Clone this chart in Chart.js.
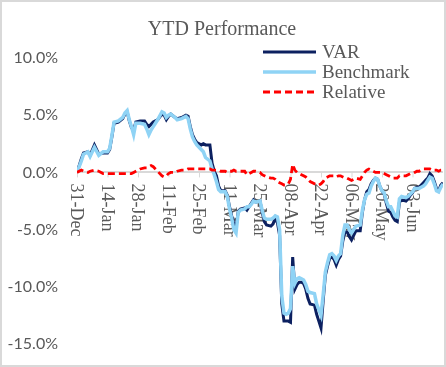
<!DOCTYPE html>
<html>
<head>
<meta charset="utf-8">
<script src="https://cdn.jsdelivr.net/npm/chart.js@4"></script>
<style>
  html, body { margin: 0; padding: 0; background: #fff; }
  canvas { display: block; }
</style>
</head>
<body>
<canvas id="perf" width="446" height="367"></canvas>
<script>
// day offsets from 31-Dec
var days = [0, 2, 3, 5, 6, 8, 10, 12, 14, 15, 16, 17, 19, 21, 22, 23, 24, 25, 26, 27,
  29, 31, 32, 33, 34, 35, 36, 37, 39, 40, 41, 42, 43, 45, 46, 48, 50, 51, 52, 53,
  54, 55, 57, 58, 59, 61, 62, 63, 64, 65, 66, 68, 69, 70, 71, 72, 73, 74, 75, 77,
  78, 79, 80, 81, 82, 84, 85, 86, 87, 89, 90, 91, 92, 93, 94, 95, 96, 97, 98, 99,
  100, 101, 102, 103, 104, 105, 106, 107, 109, 110, 111, 112, 113, 114, 115, 116, 117, 118, 119, 120,
  121, 122, 123, 124, 125, 126, 127, 128, 130, 131, 132, 133, 134, 135, 136, 137, 138, 139, 140, 141,
  142, 143, 144, 145, 146, 147, 148, 149, 151, 152, 153, 154, 155, 156, 157, 158, 159, 160, 161, 162,
  163, 164, 165, 166, 167, 168];

var varPerf = [0, 1.2, 1.7, 1.8, 1.5, 2.4, 1.6, 1.7, 1.7, 2.0, 3.1, 4.3, 4.4, 4.7, 5.1, 5.3, 4.5, 3.9, 3.7, 4.4,
  4.5, 4.5, 4.2, 4.0, 4.2, 4.4, 4.5, 4.6, 5.1, 5.0, 4.6, 4.9, 5.1, 4.8, 4.7, 4.8, 5.0, 4.9, 4.0, 3.3,
  2.9, 2.6, 2.4, 2.5, 2.4, 2.4, 0.8, 0.1, -0.3, -1.2, -1.6, -1.6, -2.0, -3.0, -3.8, -4.5, -4.8, -3.4, -3.2, -3.1,
  -3.3, -3.0, -2.7, -2.4, -2.6, -2.5, -3.5, -4.3, -4.6, -4.7, -4.5, -4.0, -4.4, -5.5, -11.5, -13.0, -13.0, -13.0, -13.1, -7.4,
  -10.2, -9.8, -9.6, -9.6, -9.7, -10.2, -11.0, -11.5, -11.6, -12.4, -13.0, -13.6, -11.2, -9.0, -8.2, -7.5, -7.4, -7.6, -8.1, -7.6,
  -7.3, -6.0, -5.2, -5.2, -5.6, -5.9, -5.5, -5.1, -5.1, -3.5, -2.4, -1.7, -1.5, -1.0, -0.7, -0.5, -0.6, -1.2, -1.6, -1.9,
  -2.7, -3.4, -3.5, -3.9, -4.2, -4.3, -2.6, -2.4, -2.5, -2.3, -2.0, -1.8, -1.4, -1.3, -1.3, -1.1, -0.9, -0.7, -0.5, -0.1,
  -0.3, -0.8, -1.4, -1.6, -1.1, -0.9];

var benchPerf = [0, 1.0, 1.6, 1.8, 1.4, 2.2, 1.5, 1.8, 1.8, 2.1, 3.2, 4.4, 4.5, 4.8, 5.2, 5.4, 4.6, 4.0, 3.3, 4.3,
  4.3, 4.2, 3.8, 3.3, 3.7, 4.0, 4.3, 4.6, 5.3, 5.2, 4.8, 5.0, 5.1, 4.8, 4.6, 4.7, 4.9, 4.7, 3.8, 3.1,
  2.7, 2.4, 2.0, 1.8, 1.3, 1.0, 0.3, -0.2, -0.8, -1.5, -1.7, -1.7, -2.1, -3.2, -4.0, -5.0, -5.3, -3.5, -3.3, -3.2,
  -3.0, -3.0, -2.8, -2.5, -2.6, -2.5, -3.3, -4.0, -4.1, -4.1, -4.0, -3.8, -3.9, -5.0, -10.8, -12.3, -12.4, -12.3, -11.9, -8.2,
  -9.7, -9.3, -9.2, -9.3, -9.4, -9.8, -10.4, -10.5, -10.6, -11.5, -12.0, -12.5, -10.7, -8.7, -7.9, -7.2, -7.1, -7.3, -7.7, -7.3,
  -7.1, -5.5, -4.6, -4.6, -5.0, -5.3, -5.0, -4.7, -4.6, -3.3, -2.4, -1.9, -1.8, -1.2, -0.8, -0.5, -0.6, -1.2, -1.6, -1.8,
  -2.5, -3.0, -3.0, -3.4, -3.8, -3.9, -2.3, -2.1, -2.2, -2.1, -1.9, -1.7, -1.4, -1.4, -1.4, -1.3, -1.2, -1.0, -0.7, -0.4,
  -0.5, -1.0, -1.6, -1.7, -1.3, -1.0];

var relPerf = [0, 0.2, 0.1, 0.0, 0.1, 0.2, 0.1, -0.1, -0.1, -0.1, -0.1, -0.1, -0.1, -0.1, -0.1, -0.1, -0.1, -0.1, 0.0, 0.1,
  0.3, 0.4, 0.4, 0.5, 0.6, 0.5, 0.3, 0.1, -0.3, -0.4, -0.3, -0.1, 0.0, 0.0, 0.1, 0.2, 0.2, 0.3, 0.3, 0.3,
  0.3, 0.3, 0.3, 0.3, 0.3, 0.3, 0.2, 0.2, 0.2, 0.2, 0.1, 0.1, 0.0, 0.1, 0.1, 0.2, 0.1, 0.1, 0.1, 0.1,
  -0.2, -0.1, 0.0, 0.1, 0.1, 0.0, -0.2, -0.3, -0.4, -0.5, -0.5, -0.6, -0.8, -0.9, -1.0, -1.1, -1.1, -1.0, -0.6, 0.7,
  0.2, 0.0, -0.1, -0.2, -0.3, -0.4, -0.6, -0.8, -1.0, -1.1, -1.1, -1.0, -0.8, -0.5, -0.4, -0.3, -0.3, -0.3, -0.4, -0.3,
  -0.3, -0.4, -0.5, -0.5, -0.6, -0.7, -0.6, -0.5, -0.6, -0.3, 0.0, 0.2, 0.3, 0.2, 0.1, 0.0, 0.0, 0.0, 0.0, -0.1,
  -0.2, -0.3, -0.4, -0.5, -0.5, -0.5, -0.3, -0.3, -0.3, -0.2, -0.1, -0.1, 0.0, 0.1, 0.1, 0.2, 0.3, 0.3, 0.3, 0.3,
  0.2, 0.2, 0.2, 0.1, 0.2, 0.2];

var tickLabels = ["31-Dec", "14-Jan", "28-Jan", "11-Feb", "25-Feb", "11-Mar",
  "25-Mar", "08-Apr", "22-Apr", "06-May", "20-May", "03-Jun"];

var textColor = "#595959";
var serif = "'Liberation Serif', 'DejaVu Serif', serif";

function toPoints(vals) {
  return vals.map(function (v, i) { return { x: days[i], y: v }; });
}

// title, custom legend, rotated date labels and the frame
var decorations = {
  id: "decorations",
  beforeDatasetsDraw: function (chart) {
    var c = chart.ctx;
    var xs = chart.scales.x, ys = chart.scales.y;
    var y0 = ys.getPixelForValue(0);
    c.save();
    c.strokeStyle = "#d9d9d9";
    c.lineWidth = 1;
    c.fillStyle = textColor;
    c.font = "18px " + serif;
    c.textAlign = "left";
    c.textBaseline = "middle";
    tickLabels.forEach(function (lbl, i) {
      var x = xs.getPixelForValue(i * 14);
      c.beginPath();
      c.moveTo(x + 0.5, y0);
      c.lineTo(x + 0.5, y0 + 5);
      c.stroke();
      c.save();
      c.translate(x - 1, y0 + 11);
      c.rotate(Math.PI / 2);
      c.fillText(lbl, 0, 0);
      c.restore();
    });
    c.restore();
  },
  afterDraw: function (chart) {
    var c = chart.ctx;
    c.save();
    // title
    c.fillStyle = textColor;
    c.font = "20px " + serif;
    c.textAlign = "center";
    c.textBaseline = "alphabetic";
    c.fillText("YTD Performance", 222, 35);
    // legend
    var items = chart.data.datasets.slice().sort(function (a, b) { return b.order - a.order; });
    c.font = "19px " + serif;
    c.textAlign = "left";
    c.textBaseline = "middle";
    items.forEach(function (ds, i) {
      var y = 52 + i * 20;
      c.beginPath();
      c.strokeStyle = ds.borderColor;
      c.lineWidth = ds.borderWidth;
      c.setLineDash(ds.borderDash || []);
      c.moveTo(263, y);
      c.lineTo(316, y);
      c.stroke();
      c.setLineDash([]);
      c.fillStyle = textColor;
      c.fillText(ds.label, 322, y + 1);
    });
    // frame
    c.strokeStyle = "#d9d9d9";
    c.lineWidth = 2;
    c.strokeRect(1, 1, chart.width - 2, chart.height - 2);
    c.restore();
  }
};

var ctx = document.getElementById("perf").getContext("2d");
var perfChart = new Chart(ctx, {
  type: "line",
  data: {
    datasets: [
      {
        label: "VAR",
        data: toPoints(varPerf),
        borderColor: "#0c2060",
        borderWidth: 3,
        order: 2,
      },
      {
        label: "Benchmark",
        data: toPoints(benchPerf),
        borderColor: "#8fd3f5",
        borderWidth: 3.5,
        order: 1,
      },
      {
        label: "Relative",
        data: toPoints(relPerf),
        borderColor: "#ff0000",
        borderWidth: 2.8,
        borderDash: [7, 4],
        order: 0,
      },
    ],
  },
  options: {
    responsive: false,
    animation: false,
    layout: { padding: { top: 58, bottom: 23, left: 0, right: 3 } },
    elements: {
      point: { radius: 0 },
      line: { tension: 0, fill: false },
    },
    plugins: {
      legend: { display: false },
      title: { display: false },
      tooltip: { enabled: false },
    },
    scales: {
      x: {
        type: "linear",
        display: false,
        min: 0,
        max: 168,
      },
      y: {
        min: -15,
        max: 10,
        afterFit: function (s) { s.width = 77; },
        ticks: {
          stepSize: 5,
          padding: 0,
          color: textColor,
          font: { family: "Lato", size: 16 },
          callback: function (v) { return v.toFixed(1) + "%"; },
        },
        border: { display: false },
        grid: {
          drawTicks: true,
          tickLength: 19,
          tickColor: "rgba(0,0,0,0)",
          lineWidth: 2,
          color: function (c) { return c.tick && c.tick.value === 0 ? "#d9d9d9" : "rgba(0,0,0,0)"; },
        },
      },
    },
  },
  plugins: [decorations],
});
</script>
</body>
</html>
